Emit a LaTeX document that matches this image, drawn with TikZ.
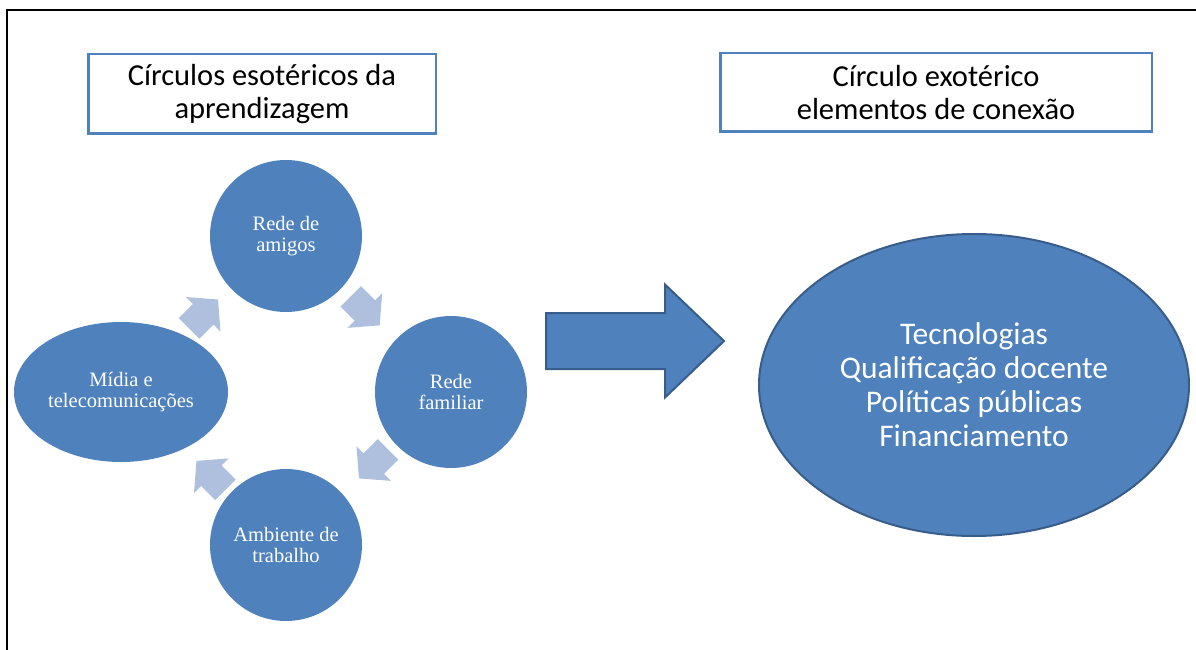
\documentclass[tikz,border=0pt]{standalone}
\usepackage{fontspec}
\setmainfont{Liberation Serif}
\newfontfamily\bodysans{Carlito}
\usepackage{tikz}
\usetikzlibrary{shapes,calc,positioning,arrows.meta}
\definecolor{accent}{RGB}{79,129,189}
\definecolor{accentdark}{RGB}{56,93,138}
\definecolor{accentlight}{RGB}{174,192,221}

\begin{document}
\begin{tikzpicture}[x=1pt,y=-1pt,
        titlebox/.style={draw=accent, line width=2.5pt, fill=white, align=center, inner sep=0pt,
            font=\bodysans\fontsize{30.5}{33}\selectfont},
        ring/.style={circle, fill=accent, text=white, align=center, inner sep=0pt,
            minimum size=152pt, font=\fontsize{20.5}{20.5}\selectfont},
        cyclearrow/.pic={\fill[accentlight] (-20.5,-14.5) -- (-0.5,-14.5) -- (-0.5,-24.5) -- (20.5,0)
            -- (-0.5,24.5) -- (-0.5,14.5) -- (-20.5,14.5) -- cycle;},
        linkarrow/.pic={\filldraw[fill=accent, draw=accentdark, line width=2pt, line join=miter]
            (-178,-28) -- (-59,-28) -- (-59,-56.5) -- (0,0) -- (-59,56.5) -- (-59,28) -- (-178,28) -- cycle;},
        ]
        \useasboundingbox (0,0) rectangle (1196,650);
        % frame
        \draw[line width=2.5pt] (7,650) |- (1196,10);
        % titles
        \node[titlebox, minimum width=347.5pt, minimum height=79.5pt] (esot) at (262,94)
            {C\'irculos esot\'ericos da\\aprendizagem};
        \node[titlebox, minimum width=431.5pt, minimum height=78.5pt] (exot) at (936,92.5)
            {C\'irculo exot\'erico\\elementos de conex\~ao};
        % learning circles
        \node[ring] (amigos) at (286,236) {Rede de\\amigos};
        \node[ring] (familiar) at (451,392) {Rede\\familiar};
        \node[ring] (trabalho) at (286,545) {Ambiente de\\trabalho};
        \node[ring, ellipse, minimum width=214pt, minimum height=140pt] (midia) at (121,392)
            {M\'idia e\\telecomunica\c{c}\~oes};
        \pic[rotate=45] (a1) at ($(midia)!0.5!(amigos)$) {cyclearrow};
        \pic[rotate=-45] (a2) at ($(amigos)!0.48!(familiar)$) {cyclearrow};
        \pic[rotate=-135] (a3) at ($(familiar)!0.47!(trabalho)$) {cyclearrow};
        \pic[rotate=135] (a4) at ($(trabalho)!0.455!(midia)$) {cyclearrow};
        % connection
        \node[ellipse, fill=accent, draw=accentdark, line width=2pt, text=white, align=center,
            minimum width=430pt, minimum height=302pt, inner sep=0pt,
            font=\bodysans\fontsize{31.5}{34}\selectfont] (elem) at (974,385)
            {Tecnologias\\Qualifica\c{c}\~ao docente\\Pol\'iticas p\'ublicas\\Financiamento};
        \pic (link) at (724,341) {linkarrow};
\end{tikzpicture}
\end{document}
